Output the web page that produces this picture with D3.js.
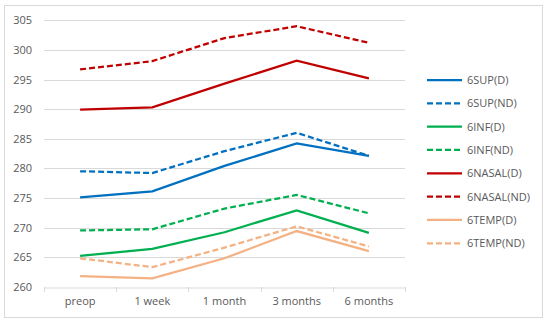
<!DOCTYPE html>
<html><head><meta charset="utf-8">
<script src="https://cdn.jsdelivr.net/npm/d3@7"></script>
<style>body{margin:0;background:#fff}svg{display:block}text{font-family:"Open Sans","Liberation Sans",sans-serif}</style>
</head><body><svg id="c" width="550" height="325"></svg>
<script>
const categories = ["preop","1 week","1 month","3 months","6 months"];
const seriesNames = ["6SUP(D)","6SUP(ND)","6INF(D)","6INF(ND)","6NASAL(D)","6NASAL(ND)","6TEMP(D)","6TEMP(ND)"];
const sup_D = [275.1,276.1,280.4,284.2,282.1];
const sup_ND = [279.5,279.2,282.9,286.0,282.1];
const inf_D = [265.2,266.4,269.2,272.9,269.1];
const inf_ND = [269.5,269.7,273.2,275.5,272.4];
const nasal_D = [289.9,290.3,294.3,298.2,295.2];
const nasal_ND = [296.7,298.1,302.0,304.0,301.2];
const temp_D = [261.8,261.4,264.8,269.4,266.0];
const temp_ND = [264.8,263.3,266.6,270.2,266.8];
const yTicks = [260,265,270,275,280,285,290,295,300,305];
const colors = ["#0070C0","#0070C0","#00B050","#00B050","#C00000","#C00000","#F4B183","#F4B183"];
const dashed = [false,true,false,true,false,true,false,true];
const values = [sup_D,sup_ND,inf_D,inf_ND,nasal_D,nasal_ND,temp_D,temp_ND];

const svg = d3.select("#c");
svg.append("rect").attr("x",4.5).attr("y",5.5).attr("width",538).attr("height",312)
  .attr("fill","#fff").attr("stroke","#d9d9d9");
const x = d3.scaleBand().domain(categories).range([44,405]);
const y = d3.scaleLinear().domain([260,305]).range([286.7,20.3]);

svg.append("g").selectAll("line").data(yTicks.slice(1)).join("line")
  .attr("x1",44).attr("x2",405).attr("y1",d=>Math.round(y(d))+0.5).attr("y2",d=>Math.round(y(d))+0.5)
  .attr("stroke","#d9d9d9").attr("stroke-width",1);

const yAxis = svg.append("g").attr("transform","translate(44,0)")
  .call(d3.axisLeft(y).tickValues(yTicks).tickSize(0).tickPadding(12));
yAxis.select(".domain").remove();
yAxis.selectAll("text").attr("fill","#595959").style("font-size","11px");

const xAxis = svg.append("g").attr("transform",`translate(0,${Math.round(y(260))+0.5})`)
  .call(d3.axisBottom(x).tickSize(0).tickPadding(10));
xAxis.select(".domain").attr("stroke","#d9d9d9");
xAxis.selectAll("text").attr("fill","#595959").style("font-size","11px");
svg.append("g").selectAll("line").data(d3.range(categories.length+1)).join("line")
  .attr("x1",i=>Math.round(44+i*x.step())+0.5).attr("x2",i=>Math.round(44+i*x.step())+0.5)
  .attr("y1",Math.round(y(260))).attr("y2",Math.round(y(260))+5).attr("stroke","#d9d9d9");

const line = d3.line().x((d,i)=>x(categories[i])+x.bandwidth()/2).y(d=>y(d));
values.forEach((v,k)=>{
  svg.append("path").datum(v).attr("d",line).attr("fill","none")
    .attr("stroke",colors[k]).attr("stroke-width",2.25)
    .attr("stroke-dasharray",dashed[k]?"6,3":null);
});

const leg = svg.append("g");
seriesNames.forEach((n,k)=>{
  const ly = 80 + k*23.33;
  leg.append("line").attr("x1",427).attr("x2",462).attr("y1",ly).attr("y2",ly)
    .attr("stroke",colors[k]).attr("stroke-width",2.25).attr("stroke-dasharray",dashed[k]?"6,3":null);
  leg.append("text").attr("x",467).attr("y",ly).attr("dy","0.35em").attr("fill","#595959")
    .style("font-size","11px").text(n);
});
</script></body></html>
